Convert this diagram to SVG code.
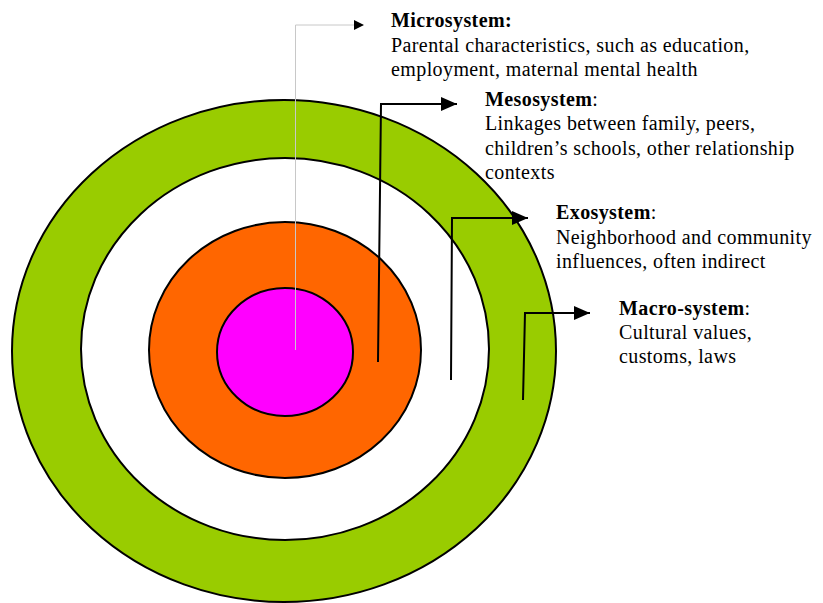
<svg xmlns="http://www.w3.org/2000/svg" width="823" height="603" viewBox="0 0 823 603">
<style>
.ring{stroke:#000;stroke-width:2}
.t{font-family:"Liberation Serif","Times New Roman",serif;font-size:20px;letter-spacing:0.4px;fill:#000}
.b{font-weight:bold}
.conn{fill:none;stroke:#000;stroke-width:2}
</style>
<defs>
<marker id="ah" markerWidth="10" markerHeight="10" refX="9" refY="5" orient="auto" markerUnits="userSpaceOnUse" viewBox="0 0 10 10">
<path d="M0,0 L10,5 L0,10 Z" fill="#000"/>
</marker>
<marker id="ahBig" viewBox="0 0 16 14" refX="16" refY="7" markerWidth="16" markerHeight="14" orient="auto" markerUnits="userSpaceOnUse">
<path d="M0,0 L16,7 L0,14 Z" fill="#000"/>
</marker>
</defs>
<rect width="823" height="603" fill="#fff"/>
<g id="macro-ring"><ellipse cx="284" cy="351" rx="272" ry="251" fill="#99CC00" class="ring"/></g>
<g id="exo-ring"><ellipse cx="285" cy="349" rx="204" ry="191" fill="#fff" class="ring"/></g>
<g id="meso-ring"><ellipse cx="285" cy="350" rx="136" ry="128" fill="#FF6600" class="ring"/></g>
<g id="micro-ring"><ellipse cx="285" cy="352" rx="68" ry="64" fill="#FF00FF" class="ring"/></g>
<g id="connectors">
<path d="M295.5,350 L295.5,25 L363,25" fill="none" stroke="#c8c8c8" stroke-width="1" marker-end="url(#ah)"/>
<path class="conn" d="M378,362 L381,104 L457,104" marker-end="url(#ahBig)"/>
<path class="conn" d="M451,380 L452,218 L528,218" marker-end="url(#ahBig)"/>
<path class="conn" d="M523,400 L525,313 L590,313" marker-end="url(#ahBig)"/>
</g>
<g id="microsystem-label">
<text class="t" x="391" y="27"><tspan class="b">Microsystem:</tspan></text>
<text class="t" x="391" y="52">Parental characteristics, such as education,</text>
<text class="t" x="391" y="76">employment, maternal mental health</text>
</g>
<g id="mesosystem-label">
<text class="t" x="485" y="106"><tspan class="b">Mesosystem</tspan>:</text>
<text class="t" x="485" y="130">Linkages between family, peers,</text>
<text class="t" x="485" y="155">children’s schools, other relationship</text>
<text class="t" x="485" y="179">contexts</text>
</g>
<g id="exosystem-label">
<text class="t" x="556" y="219"><tspan class="b">Exosystem</tspan>:</text>
<text class="t" x="556" y="244">Neighborhood and community</text>
<text class="t" x="556" y="268">influences, often indirect</text>
</g>
<g id="macrosystem-label">
<text class="t" x="619" y="315"><tspan class="b">Macro-system</tspan>:</text>
<text class="t" x="619" y="339">Cultural values,</text>
<text class="t" x="619" y="363">customs, laws</text>
</g>
</svg>
